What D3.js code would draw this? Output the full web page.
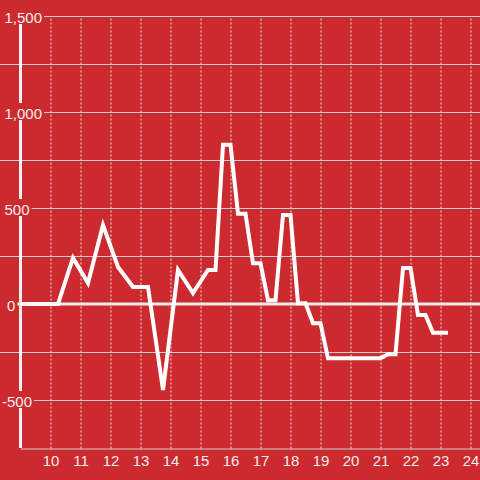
<!DOCTYPE html>
<html>
<head>
<meta charset="utf-8">
<script src="https://cdn.jsdelivr.net/npm/d3@7"></script>
<style>
html,body{margin:0;padding:0;background:#cc2a2f;}
svg{display:block;font-family:"Liberation Sans",Arial,sans-serif;}
</style>
</head>
<body>
<svg id="chart" width="480" height="480"></svg>
<script>
// Data
const times = [9, 10.25, 10.75, 11.25, 11.75, 12.25, 12.75, 13.25, 13.75, 14.25, 14.75,
  15.25, 15.5, 15.75, 16, 16.25, 16.5, 16.75, 17,
  17.25, 17.5, 17.75, 18, 18.25, 18.5, 18.75, 19,
  19.25, 21,
  21.25, 21.5, 21.75, 22, 22.25, 22.5, 22.75, 23.25];
const values = [0, 0, 240, 109, 411, 193, 89, 89, -448, 177, 57,
  177, 177, 830, 830, 470, 470, 212, 212,
  20, 20, 464, 464, 4, 4, -100, -100,
  -283, -283,
  -262, -262, 188, 188, -57, -57, -150, -150];
const xTicks = [10, 11, 12, 13, 14, 15, 16, 17, 18, 19, 20, 21, 22, 23, 24];
const yLabelTicks = [1500, 1000, 500, 0, -500];
const yGridTicks = [1250, 750, 250, -250];

const W = 480, H = 480;
const bg = "#cc2a2f";
const svg = d3.select("#chart");
const x = d3.scaleLinear().domain([9, 25]).range([20.5, 500.5]);
const y = d3.scaleLinear().domain([-750, 1500]).range([448, 16]);

svg.append("rect").attr("width", W).attr("height", H).attr("fill", bg);

// horizontal gridlines
svg.append("g").selectAll("line")
  .data(yGridTicks.concat(yLabelTicks.filter(d => d !== 0)))
  .join("line")
  .attr("x1", 0).attr("x2", W)
  .attr("y1", d => Math.round(y(d)) + 0.5).attr("y2", d => Math.round(y(d)) + 0.5)
  .attr("stroke", "#cfcfcf").attr("stroke-width", 1);

// x axis with dashed vertical gridlines
const xAxis = d3.axisBottom(x).tickValues(xTicks).tickSizeInner(-(448 - 16)).tickSizeOuter(0).tickPadding(7);
const gx = svg.append("g").attr("transform", "translate(0,448.5)").call(xAxis);
gx.select(".domain").attr("stroke", "#cfcfcf").attr("stroke-width", 1);
gx.selectAll(".tick line").attr("stroke", "#e6e6e6").attr("stroke-dasharray", "2,2").attr("stroke-width", 1);
gx.selectAll(".tick text").attr("fill", "#eeeeee").attr("font-size", 15)
  .attr("font-family", "Liberation Sans, Arial, sans-serif");

// y axis line
svg.append("line")
  .attr("x1", x(9)).attr("x2", x(9))
  .attr("y1", y(1500)).attr("y2", y(-750))
  .attr("stroke", "#f2f2f2").attr("stroke-width", 3);

// zero line
svg.append("line")
  .attr("x1", 0).attr("x2", W)
  .attr("y1", y(0)).attr("y2", y(0))
  .attr("stroke", "#eeeeee").attr("stroke-width", 3);

// series
const pts = times.map((t, i) => [t, values[i]]);
svg.append("path")
  .datum(pts)
  .attr("fill", "none")
  .attr("stroke", "#ffffff")
  .attr("stroke-width", 4)
  .attr("stroke-linejoin", "miter")
  .attr("d", d3.line().x(d => x(d[0])).y(d => y(d[1])));

// y labels with background
const fmt = d3.format(",");
const gy = svg.append("g");
yLabelTicks.forEach(v => {
  const yy = y(v);
  const lx = v === 0 ? 7 : (v < 0 ? 2 : 4.5);
  const g = gy.append("g");
  const r = g.append("rect").attr("fill", bg);
  const t = g.append("text")
    .attr("x", lx).attr("y", yy + 6.5)
    .attr("fill", "#eeeeee").attr("font-size", 15)
    .text(v < 0 ? "-" + fmt(-v) : fmt(v));
  const bb = t.node().getBBox();
  r.attr("x", 0).attr("y", yy - 9).attr("width", bb.x + bb.width + 2).attr("height", 17);
});
</script>
</body>
</html>
